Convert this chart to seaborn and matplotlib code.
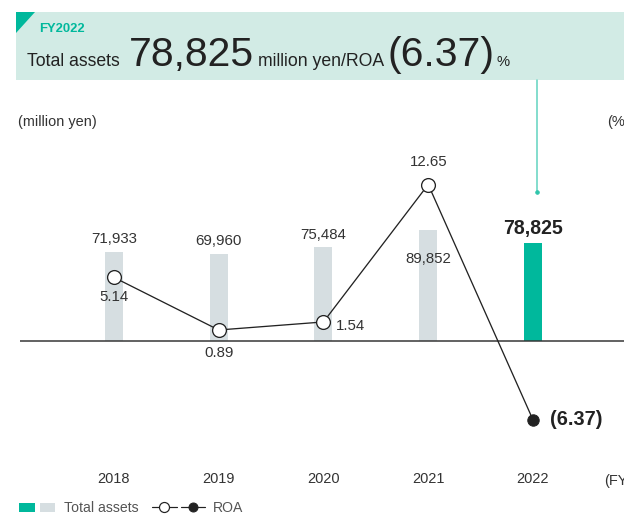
import numpy as np
import pandas as pd
import matplotlib
matplotlib.use("Agg")
import matplotlib.pyplot as plt
import seaborn as sns
from matplotlib import font_manager
from matplotlib.patches import Rectangle, Polygon, Patch
from matplotlib.lines import Line2D
from matplotlib.legend_handler import HandlerTuple

# ---------------- data ----------------
years = ["2018", "2019", "2020", "2021", "2022"]
total_assets = [71933, 69960, 75484, 89852, 78825]   # million yen
roa = [5.14, 0.89, 1.54, 12.65, -6.37]               # %
headline_year = "FY2022"

# ---------------- style ----------------
sns.set_style("white")
plt.rcParams["font.family"] = ["Liberation Sans", "DejaVu Sans"]
names = {f.name for f in font_manager.fontManager.ttflist}
HAS_NARROW = "Liberation Sans Narrow" in names
NARROW = ["Liberation Sans Narrow", "Liberation Sans"] if HAS_NARROW else ["Liberation Sans", "DejaVu Sans"]
NS = 1.0 if HAS_NARROW else 0.82

TEAL = "#00b89c"
GREY = "#d6dee1"
DARK = "#222222"
TXT = "#333333"

W, H = 624, 518
DPI = 72
fig = plt.figure(figsize=(W / DPI, H / DPI), dpi=DPI)


def fx(x):
    return x / W


def fy(y):
    return 1 - y / H


# ---------------- axes ----------------
top_px, bot_px, zero_px = 140, 460, 341
ax = fig.add_axes([fx(20), fy(bot_px), 1 - fx(20), (bot_px - top_px) / H])
ax2 = ax.twinx()

df = pd.DataFrame({"year": years, "assets": total_assets, "roa": roa})
df["pos"] = np.arange(len(df))
df["kind"] = ["past"] * (len(df) - 1) + ["latest"]

bar_colors = [GREY] * (len(years) - 1) + [TEAL]
sns.barplot(data=df, x="year", y="assets", hue="year", palette=bar_colors,
            width=0.172, legend=False, ax=ax, saturation=1, linewidth=0)

px_per_k = 1.24      # pixels per 1000 million yen
px_per_pct = 12.37   # pixels per 1 %
ax.set_xlim(-0.897, 4.869)
ax.set_ylim(-(bot_px - zero_px) / px_per_k * 1000, (zero_px - top_px) / px_per_k * 1000)
ax2.set_ylim(-(bot_px - zero_px) / px_per_pct, (zero_px - top_px) / px_per_pct)
ax.axhline(0, color="#333333", lw=1.5, zorder=3)

sns.lineplot(data=df, x="pos", y="roa", color=DARK, lw=1.3, ax=ax2, zorder=4)
past = df[df["kind"] == "past"]
latest = df[df["kind"] == "latest"]
sns.scatterplot(data=past, x="pos", y="roa", s=190, color="white",
                edgecolor=DARK, linewidth=1.3, ax=ax2, zorder=5)
sns.scatterplot(data=latest, x="pos", y="roa", s=130, color=DARK,
                edgecolor=DARK, linewidth=1.0, ax=ax2, zorder=5)

# bar value labels
bar_off = [13, 13, 12, -29, 15]
for i, v in enumerate(total_assets):
    latest_bar = i == len(total_assets) - 1
    ax.annotate(f"{v:,}", (i, v), xytext=(0, bar_off[i]), textcoords="offset points",
                ha="center", va="center",
                fontsize=19.5 if latest_bar else 15,
                fontweight="bold" if latest_bar else "normal",
                color=DARK if latest_bar else TXT, zorder=6)

# ROA labels
roa_off = [(0, -20, "center"), (0, -23, "center"), (12, -4, "left"),
           (0, 23, "center"), (17, 0, "left")]
for i, v in enumerate(roa):
    lbl = f"({abs(v):.2f})" if v < 0 else f"{v:.2f}"
    dx, dy, ha = roa_off[i]
    neg = v < 0
    ax2.annotate(lbl, (i, v), xytext=(dx, dy), textcoords="offset points",
                 ha=ha, va="center", fontsize=20 if neg else 15,
                 fontweight="bold" if neg else "normal",
                 color=DARK if neg else TXT, zorder=6)

for a in (ax, ax2):
    a.set_xlabel("")
    a.set_ylabel("")
    a.set_yticks([])
    for s in a.spines.values():
        s.set_visible(False)
ax2.patch.set_visible(False)
ax.set_xticks(range(len(years)))
ax.set_xticklabels(years)
ax.tick_params(axis="x", length=0, pad=12, labelsize=14.5, labelcolor=TXT)
ax2.tick_params(axis="x", length=0)

# unit labels
fig.text(fx(18), fy(122), "(million yen)", fontsize=14.5, color=TXT, va="center", ha="left")
fig.text(fx(607), fy(122), "(%", fontsize=14.5, color=TXT, va="center", ha="left")
fig.text(fx(604), fy(481), "(FY", fontsize=14.5, color=TXT, va="center", ha="left")

# ---------------- banner ----------------
fig.patches.append(Rectangle((fx(16), fy(80)), fx(608), (80 - 12) / H,
                             transform=fig.transFigure, facecolor="#d2ebe5",
                             edgecolor="none", zorder=0))
fig.patches.append(Polygon([(fx(16), fy(12)), (fx(35), fy(12)), (fx(16), fy(33))],
                           closed=True, transform=fig.transFigure, facecolor=TEAL,
                           edgecolor="none", zorder=1))
fig.text(fx(39), fy(32), headline_year, fontsize=13, fontweight="bold", color=TEAL,
         va="baseline", ha="left")

fig.canvas.draw()
rend = fig.canvas.get_renderer()
x = 27
latest_assets = f"{total_assets[-1]:,}"
latest_roa = f"({abs(roa[-1]):.2f})" if roa[-1] < 0 else f"{roa[-1]:.2f}"
parts = [("Total assets", 21.5, 9), (latest_assets, 50, 4),
         ("million yen/ROA", 21.5, 3), (latest_roa, 50, 3), ("%", 18, 0)]
for s, size, gap in parts:
    t = fig.text(fx(x), fy(66), s, fontsize=size * NS, family=NARROW,
                 color=DARK, va="baseline", ha="left")
    bb = t.get_window_extent(renderer=rend)
    x = bb.x1 + gap

# connector from banner to latest bar
fig.add_artist(Line2D([fx(537), fx(537)], [fy(80), fy(192)], transform=fig.transFigure,
                      color="#5fd3bf", lw=1.5))
fig.add_artist(Line2D([fx(537)], [fy(192)], transform=fig.transFigure, marker="o",
                      ms=3.5, color="#2fc5ab", lw=0))

# ---------------- legend ----------------
h1 = (Patch(facecolor=TEAL, edgecolor="none"), Patch(facecolor=GREY, edgecolor="none"))
leg1 = fig.legend([h1], ["Total assets"], loc="center left",
                  bbox_to_anchor=(fx(19), fy(508)), frameon=False, fontsize=14,
                  handlelength=2.6, handleheight=0.6, handletextpad=0.6,
                  borderpad=0, borderaxespad=0,
                  handler_map={tuple: HandlerTuple(ndivide=None, pad=0.36)})
for t in leg1.get_texts():
    t.set_color("#555555")
h2 = (Line2D([], [], color=DARK, lw=1.2, marker="o", ms=10, mfc="white", mec=DARK, mew=1.2),
      Line2D([], [], color=DARK, lw=1.2, marker="o", ms=9, mfc=DARK, mec=DARK))
leg2 = fig.legend([h2], ["ROA"], loc="center left",
                  bbox_to_anchor=(fx(152), fy(508)), frameon=False, fontsize=14,
                  handlelength=3.8, handletextpad=0.55, borderpad=0, borderaxespad=0,
                  handler_map={tuple: HandlerTuple(ndivide=None, pad=0.3)})
for t in leg2.get_texts():
    t.set_color("#555555")

fig.savefig("out.png", dpi=DPI)
